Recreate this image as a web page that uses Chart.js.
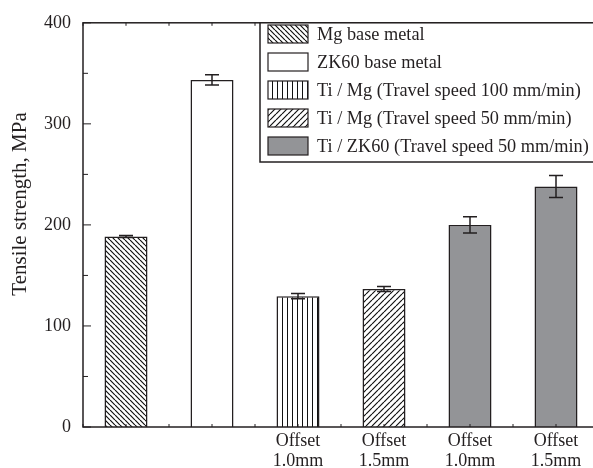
<!DOCTYPE html>
<html>
<head>
<meta charset="utf-8">
<script src="https://cdn.jsdelivr.net/npm/chart.js@4/dist/chart.umd.min.js"></script>
<style>
  html, body { margin: 0; padding: 0; background: #fff; overflow: hidden; }
  #wrap { width: 600px; height: 468px; }
</style>
</head>
<body>
<div id="wrap"><canvas id="chart" width="600" height="468"></canvas></div>
<script>
// values
const categoryLabels = [[""], [""], ["Offset", "1.0mm"], ["Offset", "1.5mm"], ["Offset", "1.0mm"], ["Offset", "1.5mm"]];
const strength = [188.5, 343.5, 129.5, 136.5, 200, 238];
const strengthErr = [1, 5, 2.5, 2.5, 8, 11];
const legendLabels = [
  "Mg base metal",
  "ZK60 base metal",
  "Ti / Mg (Travel speed 100 mm/min)",
  "Ti / Mg (Travel speed 50 mm/min)",
  "Ti / ZK60 (Travel speed 50 mm/min)"
];
const barLegendIndex = [0, 1, 2, 3, 4, 4];
const yTicks = [0, 100, 200, 300, 400];
const yTitle = "Tensile strength, MPa";

const INK = "#231f20";
const SERIF = "'Liberation Serif', 'Times New Roman', serif";

function hatch(kind, size) {
  const c = document.createElement("canvas");
  c.width = c.height = size;
  const g = c.getContext("2d");
  g.fillStyle = "#fff";
  g.fillRect(0, 0, size, size);
  g.strokeStyle = "#111";
  g.lineWidth = kind === "vert" ? 1 : 1.2;
  g.beginPath();
  if (kind === "vert") {
    g.moveTo(size / 2, 0); g.lineTo(size / 2, size);
  } else {
    for (const k of [-size, 0, size]) {
      if (kind === "back") { g.moveTo(k, 0); g.lineTo(k + size, size); }
      else { g.moveTo(k, size); g.lineTo(k + size, 0); }
    }
  }
  g.stroke();
  return g.createPattern(c, "repeat");
}

const legendFills = [
  hatch("back", 5),
  "#ffffff",
  hatch("vert", 5),
  hatch("fwd", 6),
  "#939497"
];
const barFills = barLegendIndex.map(i => legendFills[i]);

const errorBars = {
  id: "errorBars",
  afterDatasetsDraw(chart) {
    const ctx = chart.ctx;
    const y = chart.scales.y;
    const meta = chart.getDatasetMeta(0);
    ctx.save();
    ctx.strokeStyle = INK;
    ctx.lineWidth = 1.5;
    meta.data.forEach((bar, i) => {
      const top = y.getPixelForValue(strength[i] + strengthErr[i]);
      const bot = y.getPixelForValue(strength[i] - strengthErr[i]);
      ctx.beginPath();
      ctx.moveTo(bar.x, top); ctx.lineTo(bar.x, bot);
      ctx.moveTo(bar.x - 7, top); ctx.lineTo(bar.x + 7, top);
      ctx.moveTo(bar.x - 7, bot); ctx.lineTo(bar.x + 7, bot);
      ctx.stroke();
    });
    ctx.restore();
  }
};

const frame = {
  id: "frame",
  afterDatasetsDraw(chart) {
    const { ctx, chartArea: a, scales: { x, y } } = chart;
    ctx.save();
    ctx.strokeStyle = INK;
    ctx.lineWidth = 1.5;
    ctx.strokeRect(a.left, a.top, a.right - a.left, a.bottom - a.top);
    ctx.lineWidth = 1;
    ctx.beginPath();
    for (let v = 0; v <= 400; v += 50) {
      const py = y.getPixelForValue(v);
      const len = v % 100 === 0 ? 8 : 5;
      ctx.moveTo(a.left, py); ctx.lineTo(a.left + len, py);
    }
    for (let i = -0.5; i <= strength.length; i += 0.5) {
      const px = x.getPixelForValue(0) + i * (x.getPixelForValue(1) - x.getPixelForValue(0));
      ctx.moveTo(px, a.bottom); ctx.lineTo(px, a.bottom - 3);
      ctx.moveTo(px, a.top); ctx.lineTo(px, a.top + 3);
    }
    ctx.stroke();
    ctx.restore();
  }
};

const legendBox = {
  id: "legendBox",
  afterDraw(chart) {
    const ctx = chart.ctx;
    const a = chart.chartArea;
    const left = 260, top = a.top, bottom = 162;
    ctx.save();
    ctx.fillStyle = "#fff";
    ctx.fillRect(left, top, 400, bottom - top);
    ctx.strokeStyle = INK;
    ctx.lineWidth = 1.5;
    ctx.strokeRect(left, top, 400, bottom - top);
    ctx.font = "18.3px " + SERIF;
    ctx.textBaseline = "middle";
    legendLabels.forEach((label, i) => {
      const cy = 34 + i * 28;
      ctx.fillStyle = legendFills[i];
      ctx.fillRect(268, cy - 9, 40, 18);
      ctx.lineWidth = 1.2;
      ctx.strokeRect(268, cy - 9, 40, 18);
      ctx.fillStyle = INK;
      ctx.fillText(label, 317, cy + 1);
    });
    ctx.restore();
  }
};

const axisTitle = {
  id: "axisTitle",
  afterDraw(chart) {
    const ctx = chart.ctx;
    ctx.save();
    ctx.translate(20, 204);
    ctx.rotate(-Math.PI / 2);
    ctx.font = "21px " + SERIF;
    ctx.fillStyle = INK;
    ctx.textAlign = "center";
    ctx.textBaseline = "middle";
    ctx.fillText(yTitle, 0, 0);
    ctx.restore();
  }
};

new Chart(document.getElementById("chart"), {
  type: "bar",
  data: {
    labels: categoryLabels,
    datasets: [{
      data: strength,
      backgroundColor: barFills,
      borderColor: INK,
      borderWidth: 1.5,
      categoryPercentage: 1,
      barPercentage: 0.5
    }]
  },
  options: {
    responsive: false,
    animation: false,
    devicePixelRatio: 1,
    layout: { padding: { top: 17, right: 1, left: 0, bottom: 0 } },
    plugins: { legend: { display: false }, tooltip: { enabled: false } },
    scales: {
      x: {
        grid: { display: false, drawTicks: false },
        border: { display: false },
        ticks: {
          color: INK,
          font: { family: SERIF, size: 18, lineHeight: 1.12 },
          padding: 4,
          maxRotation: 0,
          autoSkip: false
        },
        afterFit(s) { s.height = 41; }
      },
      y: {
        min: 0,
        max: 400,
        grid: { display: false, drawTicks: false },
        border: { display: false },
        afterBuildTicks(s) { s.ticks = yTicks.map(v => ({ value: v })); },
        ticks: {
          color: INK,
          font: { family: SERIF, size: 18 },
          padding: 12
        },
        afterFit(s) { s.width = 83; }
      }
    }
  },
  plugins: [errorBars, frame, legendBox, axisTitle]
});
</script>
</body>
</html>
